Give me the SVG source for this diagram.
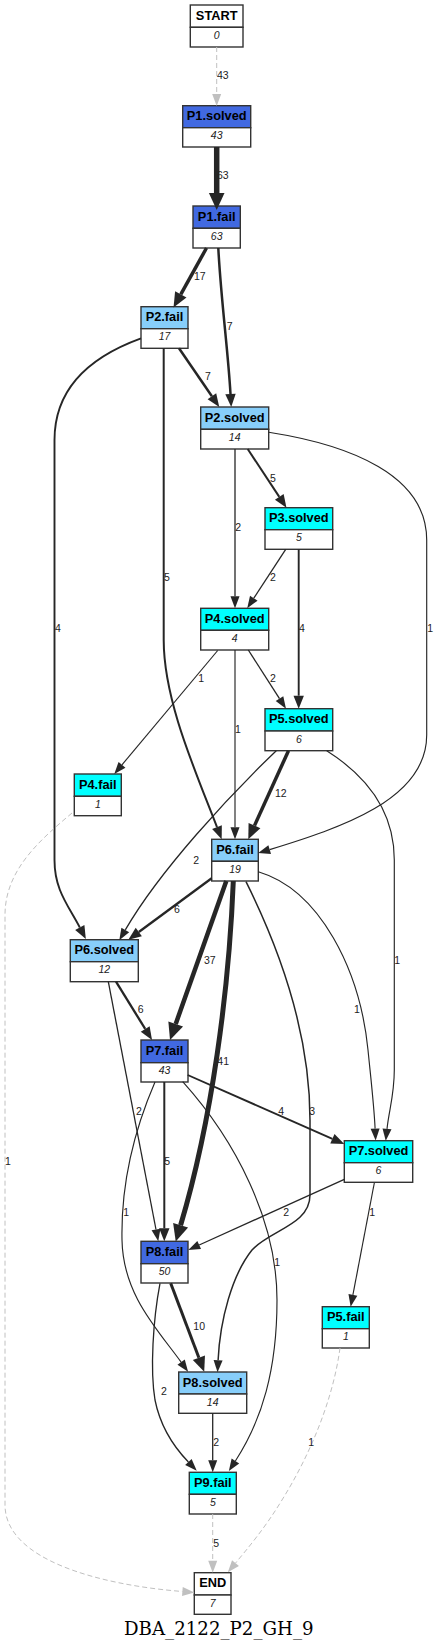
<svg xmlns="http://www.w3.org/2000/svg" width="439" height="1650" viewBox="0 0 439 1650">
<style>
.bg{fill:#ffffff}
.hd{stroke:#333333;stroke-width:1.4}
.ct{fill:#ffffff;stroke:#333333;stroke-width:1.4}
.rb{fill:#4169e1}
.sb{fill:#87cefa}
.cy{fill:#00ffff}
.wh{fill:#ffffff}
.t{font-family:"Liberation Sans",Arial,sans-serif;font-weight:bold;font-size:12.8px;fill:#000000;text-anchor:middle}
.c{font-family:"Liberation Sans",Arial,sans-serif;font-style:italic;font-size:10.5px;fill:#222222;text-anchor:middle}
.e{fill:none;stroke:#262626}
.g{fill:none;stroke:#c0c0c0;stroke-width:1;stroke-dasharray:5,3}
.l{font-family:"Liberation Sans",Arial,sans-serif;font-size:10.5px;fill:#222222}
.title{font-family:"DejaVu Serif","Liberation Serif",serif;font-size:18.2px;fill:#000000;text-anchor:middle}
</style>
<defs>
<marker id="ma" markerUnits="userSpaceOnUse" orient="auto" markerWidth="30" markerHeight="30" refX="0" refY="0" overflow="visible"><path d="M0,-4.5 L12,0 L0,4.5 z" fill="#262626"/></marker>
<marker id="mb" markerUnits="userSpaceOnUse" orient="auto" markerWidth="30" markerHeight="30" refX="0" refY="0" overflow="visible"><path d="M0,-5.2 L13,0 L0,5.2 z" fill="#262626"/></marker>
<marker id="mc" markerUnits="userSpaceOnUse" orient="auto" markerWidth="30" markerHeight="30" refX="0" refY="0" overflow="visible"><path d="M0,-6.5 L15,0 L0,6.5 z" fill="#262626"/></marker>
<marker id="md" markerUnits="userSpaceOnUse" orient="auto" markerWidth="30" markerHeight="30" refX="0" refY="0" overflow="visible"><path d="M0,-7.8 L17,0 L0,7.8 z" fill="#262626"/></marker>
<marker id="mg" markerUnits="userSpaceOnUse" orient="auto" markerWidth="30" markerHeight="30" refX="0" refY="0" overflow="visible"><path d="M0,-4.5 L12,0 L0,4.5 z" fill="#c0c0c0"/></marker>
</defs>
<rect class="bg" x="0" y="0" width="439" height="1650"/>

<g id="nodes">
<g id="START"><rect class="hd wh" x="190.3" y="5" width="52.7" height="22.3"/><rect class="ct" x="190.3" y="27.3" width="52.7" height="19.7"/><text class="t" x="216.7" y="19.8">START</text><text class="c" x="216.7" y="38.8">0</text></g>
<g id="P1.solved"><rect class="hd rb" x="182.7" y="105.7" width="68" height="22"/><rect class="ct" x="182.7" y="127.7" width="68" height="19.3"/><text class="t" x="216.7" y="120.3">P1.solved</text><text class="c" x="216.7" y="139.2">43</text></g>
<g id="P1.fail"><rect class="hd rb" x="193" y="206" width="47.3" height="22.3"/><rect class="ct" x="193" y="228.3" width="47.3" height="19.7"/><text class="t" x="216.7" y="220.8">P1.fail</text><text class="c" x="216.7" y="239.8">63</text></g>
<g id="P2.fail"><rect class="hd sb" x="141" y="306.7" width="47" height="22"/><rect class="ct" x="141" y="328.7" width="47" height="19.6"/><text class="t" x="164.5" y="321.4">P2.fail</text><text class="c" x="164.5" y="340.2">17</text></g>
<g id="P2.solved"><rect class="hd sb" x="200.7" y="407" width="68" height="22.3"/><rect class="ct" x="200.7" y="429.3" width="68" height="19.7"/><text class="t" x="234.7" y="421.8">P2.solved</text><text class="c" x="234.7" y="440.8">14</text></g>
<g id="P3.solved"><rect class="hd cy" x="265" y="507.7" width="67.7" height="22"/><rect class="ct" x="265" y="529.7" width="67.7" height="19.6"/><text class="t" x="298.8" y="522.4">P3.solved</text><text class="c" x="298.8" y="541.2">5</text></g>
<g id="P4.solved"><rect class="hd cy" x="200.7" y="608.3" width="68" height="22"/><rect class="ct" x="200.7" y="630.3" width="68" height="19.7"/><text class="t" x="234.7" y="623">P4.solved</text><text class="c" x="234.7" y="641.8">4</text></g>
<g id="P5.solved"><rect class="hd cy" x="265" y="708.7" width="67.7" height="22.3"/><rect class="ct" x="265" y="731" width="67.7" height="19.7"/><text class="t" x="298.8" y="723.4">P5.solved</text><text class="c" x="298.8" y="742.5">6</text></g>
<g id="P4.fail"><rect class="hd cy" x="74.3" y="774" width="47" height="22.3"/><rect class="ct" x="74.3" y="796.3" width="47" height="19.4"/><text class="t" x="97.8" y="788.7">P4.fail</text><text class="c" x="97.8" y="807.8">1</text></g>
<g id="P6.fail"><rect class="hd sb" x="211.7" y="839.3" width="46.6" height="22"/><rect class="ct" x="211.7" y="861.3" width="46.6" height="19.7"/><text class="t" x="235" y="854">P6.fail</text><text class="c" x="235" y="872.8">19</text></g>
<g id="P6.solved"><rect class="hd sb" x="70.3" y="939.7" width="68" height="22"/><rect class="ct" x="70.3" y="961.7" width="68" height="20"/><text class="t" x="104.3" y="954.4">P6.solved</text><text class="c" x="104.3" y="973.2">12</text></g>
<g id="P7.fail"><rect class="hd rb" x="141" y="1040" width="47" height="22.7"/><rect class="ct" x="141" y="1062.7" width="47" height="19.3"/><text class="t" x="164.5" y="1054.8">P7.fail</text><text class="c" x="164.5" y="1074.2">43</text></g>
<g id="P7.solved"><rect class="hd cy" x="344.3" y="1140.7" width="68.4" height="22"/><rect class="ct" x="344.3" y="1162.7" width="68.4" height="19.6"/><text class="t" x="378.5" y="1155.4">P7.solved</text><text class="c" x="378.5" y="1174.2">6</text></g>
<g id="P8.fail"><rect class="hd rb" x="141" y="1241.3" width="47" height="22.4"/><rect class="ct" x="141" y="1263.7" width="47" height="19.3"/><text class="t" x="164.5" y="1256">P8.fail</text><text class="c" x="164.5" y="1275.2">50</text></g>
<g id="P5.fail"><rect class="hd cy" x="322.3" y="1306.7" width="47" height="22"/><rect class="ct" x="322.3" y="1328.7" width="47" height="19.3"/><text class="t" x="345.8" y="1321.4">P5.fail</text><text class="c" x="345.8" y="1340.2">1</text></g>
<g id="P8.solved"><rect class="hd sb" x="178.7" y="1372" width="68" height="22"/><rect class="ct" x="178.7" y="1394" width="68" height="19.3"/><text class="t" x="212.7" y="1386.7">P8.solved</text><text class="c" x="212.7" y="1405.5">14</text></g>
<g id="P9.fail"><rect class="hd cy" x="189.3" y="1472.3" width="47" height="22"/><rect class="ct" x="189.3" y="1494.3" width="47" height="19.7"/><text class="t" x="212.8" y="1487">P9.fail</text><text class="c" x="212.8" y="1505.8">5</text></g>
<g id="END"><rect class="hd wh" x="194.3" y="1572.7" width="36.7" height="22.3"/><rect class="ct" x="194.3" y="1595" width="36.7" height="19.3"/><text class="t" x="212.7" y="1587.4">END</text><text class="c" x="212.7" y="1606.5">7</text></g>
</g>

<g id="connectors">
<path class="g" d="M216.7,47 L216.7,94" marker-end="url(#mg)"/>
<path class="e" stroke-width="5.5" d="M216.7,147 L216.7,193" marker-end="url(#md)"/>
<path class="e" stroke-width="3.5" d="M206.5,248 L180.8,294.4" marker-end="url(#mc)"/>
<path class="e" stroke-width="2.5" d="M218.3,248 C221,300 228,350 230.5,394" marker-end="url(#mb)"/>
<path class="e" stroke-width="2.5" d="M179,348.3 L211.9,396.3" marker-end="url(#mb)"/>
<path class="e" stroke-width="1.9" d="M141,338.3 C95,355 54.5,385 54.5,440 L54.5,860 C54.5,890 68,905 79.8,927.5" marker-end="url(#mb)"/>
<path class="e" stroke-width="2" d="M163.7,348.3 L163.7,640 C163.7,700 195,770 217,827.2" marker-end="url(#mb)"/>
<path class="e" stroke-width="2" d="M247.7,449 L279.3,496.9" marker-end="url(#mb)"/>
<path class="e" stroke-width="1.3" d="M235,449 L235,596.3" marker-end="url(#ma)"/>
<path class="e" stroke-width="1.15" d="M268.7,432.3 C350,445 426.7,475 426.7,540 L426.7,735 C426.7,800 340,828 269.7,849.6" marker-end="url(#ma)"/>
<path class="e" stroke-width="1.3" d="M285.7,549.3 L253.8,598.2" marker-end="url(#ma)"/>
<path class="e" stroke-width="1.9" d="M298.7,549.3 L298.7,695.7" marker-end="url(#mb)"/>
<path class="e" stroke-width="1.15" d="M217.7,650.5 L122,764.8" marker-end="url(#ma)"/>
<path class="e" stroke-width="1.3" d="M248.3,650 L279.5,698.6" marker-end="url(#ma)"/>
<path class="e" stroke-width="1.15" d="M235,650 L235,827.3" marker-end="url(#ma)"/>
<path class="e" stroke-width="3.5" d="M288.5,750.7 L254.5,825.6" marker-end="url(#mc)"/>
<path class="e" stroke-width="1.3" d="M276.3,750.7 C230,795 160,870 125.3,929.9" marker-end="url(#ma)"/>
<path class="e" stroke-width="1.15" d="M326.7,750.7 C365,775 394.3,810 394.3,860 L394.3,1070 C394.3,1095 389,1110 387,1128.9" marker-end="url(#ma)"/>
<path class="g" d="M72,813 C40,840 5,870 5,915 L5,1505 C5,1560 100,1585 182.4,1591.5" marker-end="url(#mg)"/>
<path class="e" stroke-width="2.3" d="M211.7,878.3 L138.8,932" marker-end="url(#mb)"/>
<path class="e" stroke-width="4.5" d="M226.3,881 L175.7,1024" marker-end="url(#md)"/>
<path class="e" stroke-width="5" d="M233.3,881 C229,990 212,1120 180.6,1225.2" marker-end="url(#md)"/>
<path class="e" stroke-width="1.5" d="M246,881.7 C285,960 310,1040 310,1120 L310,1195 C310,1225 270,1230 252,1250 C232,1275 220,1320 218.1,1360.2" marker-end="url(#ma)"/>
<path class="e" stroke-width="1.15" d="M258.3,871.7 C320,890 360,970 368,1050 C371,1080 374,1105 375.1,1128.6" marker-end="url(#ma)"/>
<path class="e" stroke-width="2.3" d="M116,981.7 L145.2,1028.9" marker-end="url(#mb)"/>
<path class="e" stroke-width="1.3" d="M108.3,981.7 L156,1229.5" marker-end="url(#ma)"/>
<path class="e" stroke-width="1.9" d="M187.7,1075 L332.4,1138.8" marker-end="url(#mb)"/>
<path class="e" stroke-width="2" d="M164.3,1082 L164.3,1228.3" marker-end="url(#mb)"/>
<path class="e" stroke-width="1.15" d="M155,1082 C130,1140 121,1190 122,1240 C123,1295 158,1330 181.1,1362.1" marker-end="url(#ma)"/>
<path class="e" stroke-width="1.15" d="M182.7,1081.7 C235,1140 277,1220 277,1300 C277,1370 262,1420 235.4,1461" marker-end="url(#ma)"/>
<path class="e" stroke-width="1.3" d="M344.3,1179.3 L199.2,1245" marker-end="url(#ma)"/>
<path class="e" stroke-width="1.15" d="M374.3,1183 L352.9,1294.9" marker-end="url(#ma)"/>
<path class="e" stroke-width="3" d="M170.7,1283.3 L198.9,1357.7" marker-end="url(#mc)"/>
<path class="e" stroke-width="1.3" d="M160,1283.3 C153,1320 150,1370 155,1400 C160,1425 172,1445 188.4,1462" marker-end="url(#ma)"/>
<path class="e" stroke-width="1.3" d="M212.7,1413.3 L212.7,1460.3" marker-end="url(#ma)"/>
<path class="g" d="M212.7,1514 L212.7,1560.7" marker-end="url(#mg)"/>
<path class="g" d="M340,1348 C333,1400 310,1455 282,1500 C265,1528 248,1548 235.5,1563.1" marker-end="url(#mg)"/>
</g>

<g id="labels">
<text class="l" x="217" y="78.8">43</text>
<text class="l" x="217" y="179">63</text>
<text class="l" x="194" y="279.8">17</text>
<text class="l" x="226.7" y="329.8">7</text>
<text class="l" x="205" y="379.8">7</text>
<text class="l" x="55" y="632.3">4</text>
<text class="l" x="164" y="581.3">5</text>
<text class="l" x="270" y="481.6">5</text>
<text class="l" x="235.3" y="531.3">2</text>
<text class="l" x="427.3" y="631.8">1</text>
<text class="l" x="270" y="581.3">2</text>
<text class="l" x="299" y="632.3">4</text>
<text class="l" x="198.3" y="682.3">1</text>
<text class="l" x="270" y="682.3">2</text>
<text class="l" x="235" y="732.6">1</text>
<text class="l" x="275" y="797">12</text>
<text class="l" x="193.3" y="863.6">2</text>
<text class="l" x="394.3" y="963.6">1</text>
<text class="l" x="5" y="1164.6">1</text>
<text class="l" x="174" y="913">6</text>
<text class="l" x="204" y="963.6">37</text>
<text class="l" x="217.3" y="1064.6">41</text>
<text class="l" x="309.3" y="1114.6">3</text>
<text class="l" x="354" y="1013">1</text>
<text class="l" x="137.7" y="1013">6</text>
<text class="l" x="136" y="1114.6">2</text>
<text class="l" x="278.3" y="1114.6">4</text>
<text class="l" x="164.3" y="1164.6">5</text>
<text class="l" x="123.3" y="1215.6">1</text>
<text class="l" x="274.3" y="1265.6">1</text>
<text class="l" x="283.3" y="1215.6">2</text>
<text class="l" x="369.3" y="1215.6">1</text>
<text class="l" x="193.3" y="1329.6">10</text>
<text class="l" x="161" y="1395">2</text>
<text class="l" x="213.3" y="1446.3">2</text>
<text class="l" x="213.3" y="1546.6">5</text>
<text class="l" x="308.3" y="1446.3">1</text>
</g>

<text class="title" x="218.8" y="1635">DBA_2122_P2_GH_9</text>
</svg>
